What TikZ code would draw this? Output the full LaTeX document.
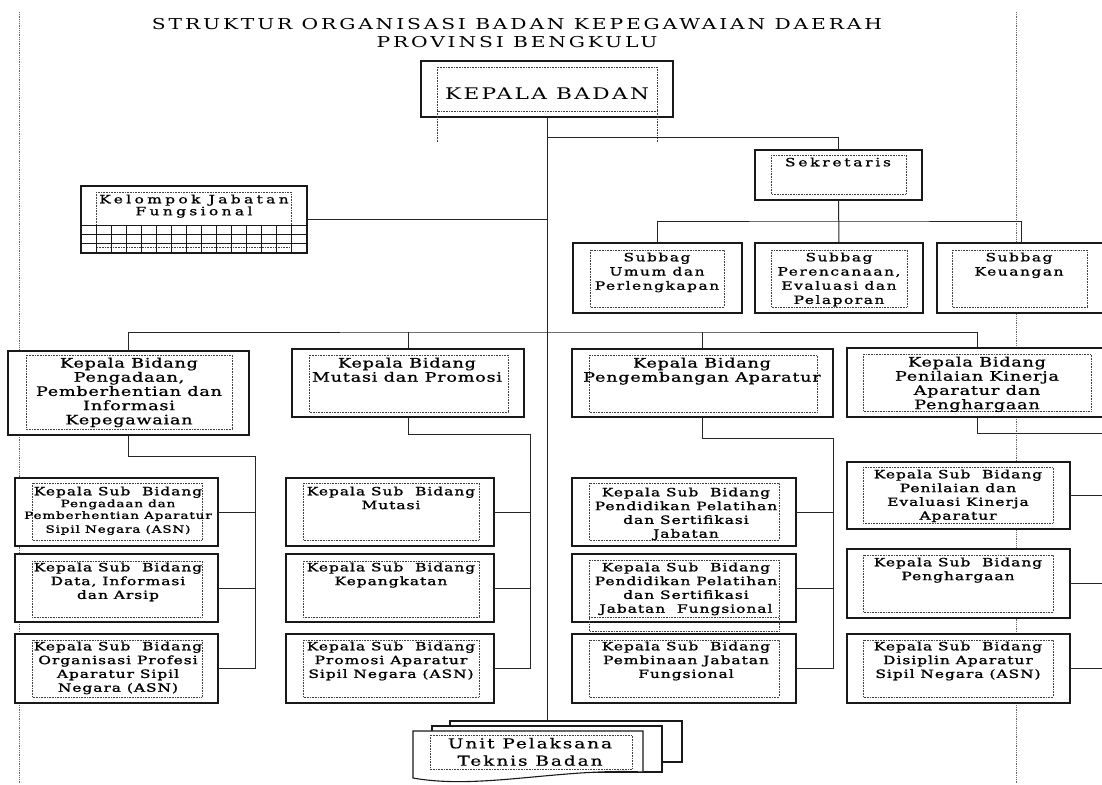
\documentclass[tikz,border=0pt]{standalone}
\usepackage{fontspec}
\usepackage{graphicx}
\setmainfont{DejaVu Serif}
\newfontfamily\ftitle{DejaVu Serif}[LetterSpace=14]
\newfontfamily\fkb{DejaVu Serif}[LetterSpace=11]
\newfontfamily\fbid{DejaVu Serif}[LetterSpace=4.5,FakeBold=0.8]
\newfontfamily\fsub{DejaVu Serif}[LetterSpace=6.5,FakeBold=1.3]
\newfontfamily\fsbag{DejaVu Serif}[LetterSpace=10,FakeBold=1.1]
\newfontfamily\fsek{DejaVu Serif}[LetterSpace=18,FakeBold=1.1]
\newfontfamily\fkjf{DejaVu Serif}[LetterSpace=22,FakeBold=1.1]
\newfontfamily\funit{DejaVu Serif}[LetterSpace=10.5,FakeBold=0.5]
\newcommand\Stitle{\ftitle\fontsize{15}{18}\selectfont}
\newcommand\Skb{\fkb\fontsize{16}{19}\selectfont}
\newcommand\Ssek{\fsek\fontsize{11.4}{14}\selectfont}
\newcommand\Ssbag{\fsbag\fontsize{11.4}{14.2}\selectfont}
\newcommand\Skjf{\fkjf\fontsize{11.4}{10.8}\selectfont}
\newcommand\Sbid{\fbid\fontsize{13}{14.2}\selectfont}
\newcommand\Ssub{\fsub\fontsize{11.4}{13.8}\selectfont}
\newcommand\Ssubsm{\fsub\fontsize{10}{12}\selectfont}
\newcommand\Sunit{\funit\fontsize{13.7}{17.4}\selectfont}
\newcommand\obox[5]{\node[obx, minimum width={(#4-#2)*1pt}, minimum height={(#5-#3)*1pt}] (#1) at ({(#2+#4)/2},{(#3+#5)/2}) {};}
\newcommand\ibx[4]{\draw[idot] (#1,#2) rectangle (#3,#4);}
\newcommand\txt[4]{\node[anchor=base, inner sep=0pt, outer sep=0pt] (#1) at (#2) {\scalebox{1.35}[1]{#3\begin{tabular}[t]{@{}c@{}}#4\end{tabular}}};}
\begin{document}
\begin{tikzpicture}[x=1pt,y=-1pt,
  obx/.style={draw=black!90, line width=1.1pt, fill=white, inner sep=0pt, outer sep=0pt},
  idot/.style={draw=black!75, densely dotted, line width=0.6pt},
  pdot/.style={draw=black!60, densely dotted, line width=0.8pt},
  conn/.style={draw=black!85, line width=1pt},
  gridl/.style={draw=black!90, line width=1pt}]
\useasboundingbox (0,0) rectangle (1102,784);
\clip (0,0) rectangle (1102,784);
\fill[white] (0,0) rectangle (1102,784);
% page margin lines
\draw[pdot] (19,12) -- (19,784);
\draw[pdot] (1016,12) -- (1016,784);
% junction coordinates
\coordinate (j1) at (547,137);
\coordinate (utop) at (547,721);
\coordinate (sbus) at (839,221);
\coordinate (bbus) at (547,332);
\coordinate (c1) at (255,669);
\coordinate (c2) at (530,669);
\coordinate (c3) at (833,669);
\coordinate (c4) at (1110,433);
% boxes
\obox{kb}{421}{61}{673}{117}
\obox{sek}{755}{150}{922}{200}
\obox{sb1}{573}{243}{742}{313}
\obox{sb2}{755}{243}{923}{313}
\obox{sb3}{937}{243}{1105}{313}
\obox{kjf}{81}{186}{307}{253}
\obox{b1}{8}{351}{249}{435}
\obox{b2}{292}{349}{524}{417}
\obox{b3}{572}{349}{833}{417}
\obox{b4}{847}{348}{1107}{417}
\obox{s1a}{15}{478}{218}{546}
\obox{s1b}{15}{554}{218}{622}
\obox{s1c}{15}{634}{218}{703}
\obox{s2a}{286}{478}{494}{546}
\obox{s2b}{286}{554}{494}{622}
\obox{s2c}{286}{634}{494}{703}
\obox{s3a}{572}{478}{796}{546}
\obox{s3b}{572}{554}{796}{622}
\obox{s3c}{572}{634}{796}{703}
\obox{s4a}{847}{462}{1070}{529}
\obox{s4b}{847}{549}{1070}{618}
\obox{s4c}{847}{634}{1070}{703}
% inner dotted frames
\ibx{437}{67}{657}{111}
\draw[idot] (437,111) -- (437,142);
\draw[idot] (657,111) -- (657,142);
\ibx{771}{155}{906}{194}
\ibx{590}{250}{724}{307}
\ibx{771}{250}{907}{307}
\ibx{952}{250}{1087}{307}
\ibx{96}{192}{291}{247}
\ibx{26}{355}{232}{429}
\ibx{309}{355}{508}{412}
\ibx{589}{355}{817}{412}
\ibx{863}{354}{1091}{411}
\ibx{32}{483}{202}{540}
\ibx{32}{561}{202}{617}
\ibx{32}{640}{202}{697}
\ibx{303}{483}{479}{540}
\ibx{303}{561}{479}{617}
\ibx{303}{640}{479}{697}
\ibx{589}{483}{779}{540}
\ibx{589}{560}{779}{631}
\draw[idot] (589,617) -- (779,617);
\ibx{589}{640}{779}{697}
\ibx{863}{467}{1053}{523}
\ibx{863}{555}{1053}{612}
\ibx{863}{640}{1053}{697}
% kelompok grid
\foreach \yy in {225,234,243} \draw[gridl] (81,\yy) -- (307,\yy);
\foreach \i in {1,...,14} \draw[gridl] ({81+\i*15.07},225) -- ({81+\i*15.07},253);
% connectors
\draw[conn] (kb.south) -- (utop);
\draw[conn] (j1) -| (sek.north);
\draw[conn] (sek.south) -- (sb2.north);
\draw[conn] (sb1.north) |- (sbus) -| (sb3.north);
\draw[conn] (kjf.east) -- (kjf.east -| kb.south);
\draw[conn] (b1.north) |- (bbus) -| (b4.north);
\draw[conn] (b2.north) -- (b2.north |- bbus);
\draw[conn] (b3.north) -- (b3.north |- bbus);
\draw[conn] (b1.south) -- ++(0,21) -| (c1);
\draw[conn] (s1a.east) -- (s1a.east -| c1);
\draw[conn] (s1b.east) -- (s1b.east -| c1);
\draw[conn] (s1c.east) -- (s1c.east -| c1);
\draw[conn] (b2.south) -- ++(0,17) -| (c2);
\draw[conn] (s2a.east) -- (s2a.east -| c2);
\draw[conn] (s2b.east) -- (s2b.east -| c2);
\draw[conn] (s2c.east) -- (s2c.east -| c2);
\draw[conn] (b3.south) -- ++(0,21) -| (c3);
\draw[conn] (s3a.east) -- (s3a.east -| c3);
\draw[conn] (s3b.east) -- (s3b.east -| c3);
\draw[conn] (s3c.east) -- (s3c.east -| c3);
\draw[conn] (b4.south) |- (c4);
\draw[conn] (s4a.east) -- ++(40,0);
\draw[conn] (s4b.east) -- ++(40,0);
\draw[conn] (s4c.east) -- ++(40,0);
% unit pelaksana (multi document)
\filldraw[obx] (450,721) rectangle (682,762);
\filldraw[obx] (432,726) rectangle (662,772);
\filldraw[obx] (413,731) -- (643,731) -- (643,772) .. controls (560,768) and (480,790) .. (413,778) -- cycle;
\ibx{430}{735}{632}{769}
% texts
\txt{ttl}{517,30}{\Stitle}{STRUKTUR ORGANISASI BADAN KEPEGAWAIAN DAERAH\\PROVINSI BENGKULU}
\txt{tkb}{547,99.7}{\Skb}{KEPALA BADAN}
\txt{tsek}{838,166.3}{\Ssek}{Sekretaris}
\txt{tsb1}{657,261.3}{\Ssbag}{Subbag\\Umum dan\\Perlengkapan}
\txt{tsb2}{839,261.3}{\Ssbag}{Subbag\\Perencanaan,\\Evaluasi dan\\Pelaporan}
\txt{tsb3}{1019,261.3}{\Ssbag}{Subbag\\Keuangan}
\txt{tkjf}{194,203.3}{\Skjf}{Kelompok Jabatan\\Fungsional}
\txt{tb1}{129,367.5}{\Sbid}{Kepala Bidang\\Pengadaan,\\Pemberhentian dan\\Informasi\\Kepegawaian}
\txt{tb2}{407,367.5}{\Sbid}{Kepala Bidang\\Mutasi dan Promosi}
\txt{tb3}{702,367.5}{\Sbid}{Kepala Bidang\\Pengembangan Aparatur}
\txt{tb4}{977,366.5}{\Sbid}{Kepala Bidang\\Penilaian Kinerja\\Aparatur dan\\Penghargaan}
\txt{t1a}{118,495.3}{\Ssub}{Kepala Sub~~Bidang\\[-2pt]\Ssubsm Pengadaan dan\\[-2pt]\Ssubsm Pemberhentian Aparatur\\\Ssubsm Sipil Negara (ASN)}
\txt{t1b}{118,571.3}{\Ssub}{Kepala Sub~~Bidang\\Data, Informasi\\dan Arsip}
\txt{t1c}{118,650.3}{\Ssub}{Kepala Sub~~Bidang\\Organisasi Profesi\\Aparatur Sipil\\Negara (ASN)}
\txt{t2a}{391,495.3}{\Ssub}{Kepala Sub~~Bidang\\Mutasi}
\txt{t2b}{391,571.3}{\Ssub}{Kepala Sub~~Bidang\\Kepangkatan}
\txt{t2c}{391,650.3}{\Ssub}{Kepala Sub~~Bidang\\Promosi Aparatur\\Sipil Negara (ASN)}
\txt{t3a}{686,496.3}{\Ssub}{Kepala Sub~~Bidang\\Pendidikan Pelatihan\\dan Sertifikasi\\Jabatan}
\txt{t3b}{686,571.3}{\Ssub}{Kepala Sub~~Bidang\\Pendidikan Pelatihan\\dan Sertifikasi\\Jabatan~~Fungsional}
\txt{t3c}{686,650.3}{\Ssub}{Kepala Sub~~Bidang\\Pembinaan Jabatan\\Fungsional}
\txt{t4a}{958,478.3}{\Ssub}{Kepala Sub~~Bidang\\Penilaian dan\\Evaluasi Kinerja\\Aparatur}
\txt{t4b}{958,566.3}{\Ssub}{Kepala Sub~~Bidang\\Penghargaan}
\txt{t4c}{958,650.3}{\Ssub}{Kepala Sub~~Bidang\\Disiplin Aparatur\\Sipil Negara (ASN)}
\txt{tu}{530,748.3}{\Sunit}{Unit Pelaksana\\Teknis Badan}
\end{tikzpicture}
\end{document}
